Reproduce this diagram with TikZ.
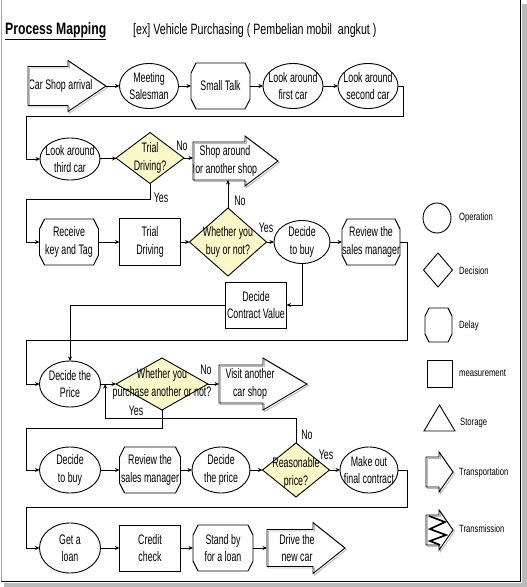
\documentclass[tikz,border=0pt]{standalone}
\usepackage{fontspec}
\setmainfont{Liberation Sans}
\newfontfamily\nfont{Liberation Sans}[FakeStretch=0.64]
\newfontfamily\lfont{Liberation Sans}[FakeStretch=0.73]
\newfontfamily\tfont{Liberation Sans}[FakeStretch=0.71]
\newfontfamily\hfont{Liberation Sans}[FakeStretch=0.74]
\usetikzlibrary{shapes.geometric,arrows.meta}
\definecolor{dyel}{RGB}{250,247,200}
\tikzset{
 x=1pt,y=-1pt,
 conn/.style={line width=0.8pt,-{Stealth[length=4.5pt,width=4pt]}},
 lbl/.style={font=\nfont\fontsize{13.8}{17.5}\selectfont, align=center, inner sep=0pt},
 tx/.style={label={[lbl]center:{#1}}},
 shp/.style={draw, line width=0.9pt, inner sep=0pt, outer sep=0pt},
 oper/.style={shp, ellipse, minimum width=60, minimum height=45},
 dec/.style={shp, diamond, fill=dyel},
 meas/.style={shp, rectangle, minimum width=61, minimum height=47},
 delay/.style={inner sep=0pt, outer sep=0pt, minimum width=59, minimum height=46},
 tbody/.style={inner sep=0pt, outer sep=0pt},
 yn/.style={font=\nfont\fontsize{13.8}{17}\selectfont, inner sep=0pt},
 leg/.style={font=\lfont\fontsize{10.5}{12}\selectfont, anchor=west, inner sep=0pt},
 outl/.style={line width=0.9pt},
}
\newcommand\delayoutline[3]{%
 \draw[outl] ([xshift=#2]#1.north west) -- ([xshift=-#2]#1.north east) -- ([yshift=-#3]#1.north east) -- ([yshift=#3]#1.south east) -- ([xshift=-#2]#1.south east) -- ([xshift=#2]#1.south west) -- ([yshift=#3]#1.south west) -- ([yshift=-#3]#1.north west) -- cycle;}
\newcommand\tpolypath[3]{(#1.north west) -- (#1.north east) -- ([yshift=#2]#1.north east) -- ([xshift=#3]#1.east) -- ([yshift=-#2]#1.south east) -- (#1.south east) -- (#1.south west) -- cycle}
\newcommand\tarrowoutline[3]{%
 \begin{scope}[transform canvas={shift={(1.5pt,-1.5pt)}}]
 \draw[outl, gray!55] \tpolypath{#1}{#2}{#3};
 \end{scope}
 \draw[outl] \tpolypath{#1}{#2}{#3};}
\begin{document}
\begin{tikzpicture}
\useasboundingbox (0,0) rectangle (527,587);
% frame with shadow
\fill[gray!55] (522,4) rectangle (527,587);
\fill[gray!55] (4,582.5) rectangle (527,587);
\draw[gray!70, line width=0.6pt] (1,0) -- (1,581);
\draw[line width=1pt] (1,581) -- (520.5,581) -- (520.5,0);

% title
\node[font=\hfont\bfseries\fontsize{16.5}{18}\selectfont, anchor=west, inner sep=0pt] (title) at (5,31) {\underline{Process Mapping}};
\node[font=\tfont\fontsize{15}{18}\selectfont, anchor=west, inner sep=0pt] (sub) at (133,31) {[ex] Vehicle Purchasing ( Pembelian mobil\ \ angkut )};

% row 1
\node[tbody, minimum width=40, minimum height=39, label={[lbl,xshift=12.5pt]center:Car Shop arrival}] (csa) at (48,86) {};
\coordinate (csatip) at (106,86);
\node[oper, minimum width=59, tx={Meeting\\Salesman}] (ms) at (149,86) {};
\node[delay, tx={Small Talk}] (st) at (220.5,86) {};
\node[oper, tx={Look around\\first car}] (lf) at (293,86) {};
\node[oper, tx={Look around\\second car}] (ls) at (368,86) {};

% row 2
\node[oper, minimum height=42, tx={Look around\\third car}] (lt) at (70,159) {};
\node[dec, minimum width=68, minimum height=51, tx={Trial\\Driving?}] (td) at (150,158) {};
\node[tbody, minimum width=52, minimum height=38, label={[lbl,xshift=6pt]center:{Shop around\\for another shop}}] (sa) at (219,161) {};

% row 3
\node[delay, tx={Receive\\key and Tag}] (rk) at (69,242) {};
\node[meas, tx={Trial\\Driving}] (tdr) at (150,242) {};
\node[dec, minimum width=77, minimum height=68, tx={Whether you\\buy or not?}] (wb) at (228,242) {};
\node[oper, minimum width=56, minimum height=43, tx={Decide\\to buy}] (db) at (302,242) {};
\node[delay, minimum width=58, tx={Review the\\sales manager}] (rv) at (371,242) {};
\node[meas, minimum height=46, tx={Decide\\Contract Value}] (dcv) at (256,305) {};

% row 4
\node[oper, minimum width=61, minimum height=46, tx={Decide the\\Price}] (dp) at (70,384) {};
\node[dec, minimum width=92, minimum height=52, tx={Whether you\\purchase another or not?}] (wp) at (162,384) {};
\node[tbody, minimum width=44, minimum height=38, label={[lbl,xshift=9pt]center:{Visit another\\car shop}}] (va) at (241,384) {};

% row 5
\node[oper, minimum width=61, minimum height=46, tx={Decide\\to buy}] (db2) at (70,470) {};
\node[delay, minimum width=61, tx={Review the\\sales manager}] (rv2) at (150,470) {};
\node[oper, minimum width=58, minimum height=46, tx={Decide\\the price}] (dp2) at (221,470) {};
\node[dec, minimum width=67, minimum height=54, label={[lbl,yshift=-3pt]center:{Reasonable\\price?}}] (rp) at (296,470) {};
\node[oper, minimum width=58, minimum height=46, tx={Make out\\final contract}] (mo) at (369,470) {};

% row 6
\node[oper, minimum width=61, minimum height=50, tx={Get a\\loan}] (gl) at (70,548) {};
\node[meas, minimum height=46, tx={Credit\\check}] (cc) at (150,548) {};
\node[delay, minimum width=60, tx={Stand by\\for a loan}] (sb) at (223,548) {};
\node[tbody, minimum width=46, minimum height=37, label={[lbl,xshift=7pt]center:{Drive the\\new car}}] (dn) at (290,548) {};

% outlines of delay and transport shapes
\delayoutline{st}{5pt}{10pt}
\delayoutline{rk}{5pt}{10pt}
\delayoutline{rv}{5pt}{10pt}
\delayoutline{rv2}{5pt}{10pt}
\delayoutline{sb}{5pt}{10pt}
\tarrowoutline{csa}{6pt}{38pt}
\tarrowoutline{sa}{6pt}{33pt}
\tarrowoutline{va}{7pt}{44pt}
\tarrowoutline{dn}{7pt}{32pt}

% connectors
\draw[conn] (csatip) -- (ms);
\draw[conn] (ms) -- (st);
\draw[conn] (st) -- (lf);
\draw[conn] (lf) -- (ls);
\draw[conn] (ls.east) -- ++(5,0) |- (26,116) |- (lt.west);
\draw[conn] (lt) -- (td);
\draw[conn] (td.east) -- (td.east -| sa.west);
\draw[conn] (td.south) |- (26,199) |- (rk.west);
\draw[conn] (rk) -- (tdr);
\draw[conn] (tdr) -- (wb);
\draw[conn] (wb) -- (db);
\draw[conn] (db) -- (rv);
\draw[conn] (wb.north) -- (wb.north |- sa.south);
\draw[conn] (rv.east) -- ++(7,0) |- (26,340) |- (dp.west);
\draw[conn] (db.south) |- (dcv.east);
\draw[conn] (dcv.west) -| (dp.north);
\draw[conn] (dp) -- (wp);
\draw[conn] (wp) -- (va);
\path (dp.east) -- (wp.west) coordinate[pos=0.3] (jn);
\draw[conn] (wp.south) |- (26,428) |- (db2.west);
\draw[conn] (rp.north) -- ++(0,-25) -| (jn);
\draw[conn] (db2) -- (rv2);
\draw[conn] (rv2) -- (dp2);
\draw[conn] (dp2) -- (rp);
\draw[conn] (rp) -- (mo);
\draw[conn] (mo.east) -- ++(9,0) |- (26,507) |- (gl.west);
\draw[conn] (gl) -- (cc);
\draw[conn] (cc) -- (sb);
\draw[conn] (sb) -- (dn);

% yes / no labels
\node[yn] (n1) at (182,146) {No};
\node[yn] (y1) at (161,198) {Yes};
\node[yn] (n2) at (240,201) {No};
\node[yn] (y2) at (266,228) {Yes};
\node[yn] (n3) at (206,370) {No};
\node[yn] (y3) at (136,411) {Yes};
\node[yn] (n4) at (307,435) {No};
\node[yn] (y4) at (326,455) {Yes};

% legend
\node[shp, ellipse, minimum width=28, minimum height=30] (lo) at (437,218) {};
\node[shp, diamond, minimum width=29, minimum height=34] (ld) at (438,270) {};
\node[delay, minimum width=27, minimum height=34] (ldl) at (438.5,325) {};
\delayoutline{ldl}{4pt}{8pt}
\node[shp, minimum width=25, minimum height=27] (lm) at (439.5,373.5) {};
\draw[outl] (424,431) -- (439.5,405) -- (455,431) -- cycle;
\node[tbody, minimum width=13, minimum height=30] (ltr) at (432.5,472) {};
\tarrowoutline{ltr}{5pt}{14pt}
\node[tbody, minimum width=13, minimum height=30] (ltm) at (432.5,530) {};
\tarrowoutline{ltm}{5pt}{14pt}
\draw[line width=1.7pt, line join=miter] (429,516) -- (445,522) -- (430,529) -- (446,535) -- (430,541) -- (440,545);
\node[leg] (t1) at (459,218) {Operation};
\node[leg] (t2) at (459,271) {Decision};
\node[leg] (t3) at (459,326) {Delay};
\node[leg] (t4) at (459,373) {measurement};
\node[leg] (t5) at (460,423) {Storage};
\node[leg] (t6) at (459,473) {Transportation};
\node[leg] (t7) at (459,529) {Transmission};
\end{tikzpicture}
\end{document}
